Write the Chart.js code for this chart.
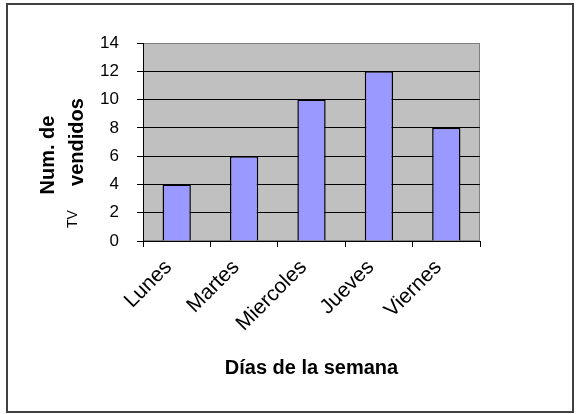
<!DOCTYPE html>
<html>
<head>
<meta charset="utf-8">
<script src="https://cdn.jsdelivr.net/npm/chart.js@4"></script>
<style>
html,body{margin:0;padding:0;background:#fff;}
#wrap{width:579px;height:414px;position:relative;}
</style>
</head>
<body>
<div id="wrap"><canvas id="c" width="579" height="414"></canvas></div>
<script>
const categories = ['Lunes', 'Martes', 'Miercoles', 'Jueves', 'Viernes'];
const tvVendidos = [4, 6, 10, 12, 8];
const yTicks = [0, 2, 4, 6, 8, 10, 12, 14];
const xTitle = 'Días de la semana';
const yTitleLine1 = 'Num. de';
const yTitleSmall = 'TV';
const yTitleLine2 = 'vendidos';

const FONT = '"Liberation Sans", Arial, sans-serif';

const decor = {
  id: 'decor',
  beforeDraw(chart) {
    const {ctx, chartArea: a} = chart;
    ctx.save();
    ctx.fillStyle = '#C0C0C0';
    ctx.fillRect(a.left, a.top, a.right - a.left, a.bottom - a.top);
    ctx.strokeStyle = '#808080';
    ctx.lineWidth = 1;
    ctx.strokeRect(a.left + 0.5, a.top + 0.5, a.right - a.left - 1, a.bottom - a.top - 1);
    ctx.restore();
  },
  afterDraw(chart) {
    const {ctx} = chart;
    ctx.save();
    ctx.strokeStyle = '#404040';
    ctx.lineWidth = 2;
    ctx.strokeRect(7, 4, 566, 408);
    ctx.fillStyle = '#000';
    ctx.save();
    ctx.translate(48, 155);
    ctx.rotate(-Math.PI / 2);
    ctx.font = 'bold 20px ' + FONT;
    ctx.textAlign = 'center';
    ctx.textBaseline = 'middle';
    ctx.fillText(yTitleLine1, 0, 0);
    ctx.restore();

    ctx.save();
    ctx.translate(83, 142);
    ctx.rotate(-Math.PI / 2);
    ctx.font = 'bold 20px ' + FONT;
    ctx.textAlign = 'center';
    ctx.textBaseline = 'alphabetic';
    ctx.fillText(yTitleLine2, 0, 0);
    ctx.restore();

    ctx.save();
    ctx.translate(66, 219);
    ctx.rotate(-Math.PI / 2);
    ctx.font = '14px ' + FONT;
    ctx.textAlign = 'center';
    ctx.textBaseline = 'top';
    ctx.fillText(yTitleSmall, 0, 0);
    ctx.restore();
    ctx.restore();
  }
};

new Chart(document.getElementById('c'), {
  type: 'bar',
  data: {
    labels: categories,
    datasets: [{
      data: tvVendidos,
      backgroundColor: '#9999FF',
      borderColor: '#000000',
      borderWidth: 1.5,
      barPercentage: 0.42,
      categoryPercentage: 1.0
    }]
  },
  options: {
    responsive: false,
    animation: false,
    devicePixelRatio: 1,
    layout: {padding: {top: 43, right: 99, bottom: 0, left: 0}},
    plugins: {legend: {display: false}, tooltip: {enabled: false}},
    scales: {
      x: {
        offset: true,
        grid: {display: true, drawOnChartArea: false, drawTicks: true, tickLength: 6, color: '#000', offset: true},
        border: {display: true, color: '#000', width: 1},
        ticks: {
          color: '#000', font: {family: FONT, size: 21},
          minRotation: 45, maxRotation: 45, padding: 8, labelOffset: -8, autoSkip: false
        },
        title: {display: true, text: xTitle, color: '#000', font: {family: FONT, size: 20, weight: 'bold'}, padding: {top: 0, bottom: 34}},
        afterFit(s) { s.height = 173; }
      },
      y: {
        min: 0, max: 14,
        afterBuildTicks(s) { s.ticks = yTicks.map(v => ({value: v})); },
        grid: {
          color: ctx => (ctx.tick && ctx.tick.value === 14) ? '#808080' : '#000',
          tickColor: '#000', tickLength: 6, lineWidth: 1
        },
        border: {display: true, color: '#000', width: 1},
        ticks: {color: '#000', font: {family: FONT, size: 17}, padding: 18},
        afterFit(s) { s.width = 143; }
      }
    }
  },
  plugins: [decor]
});
</script>
</body>
</html>
